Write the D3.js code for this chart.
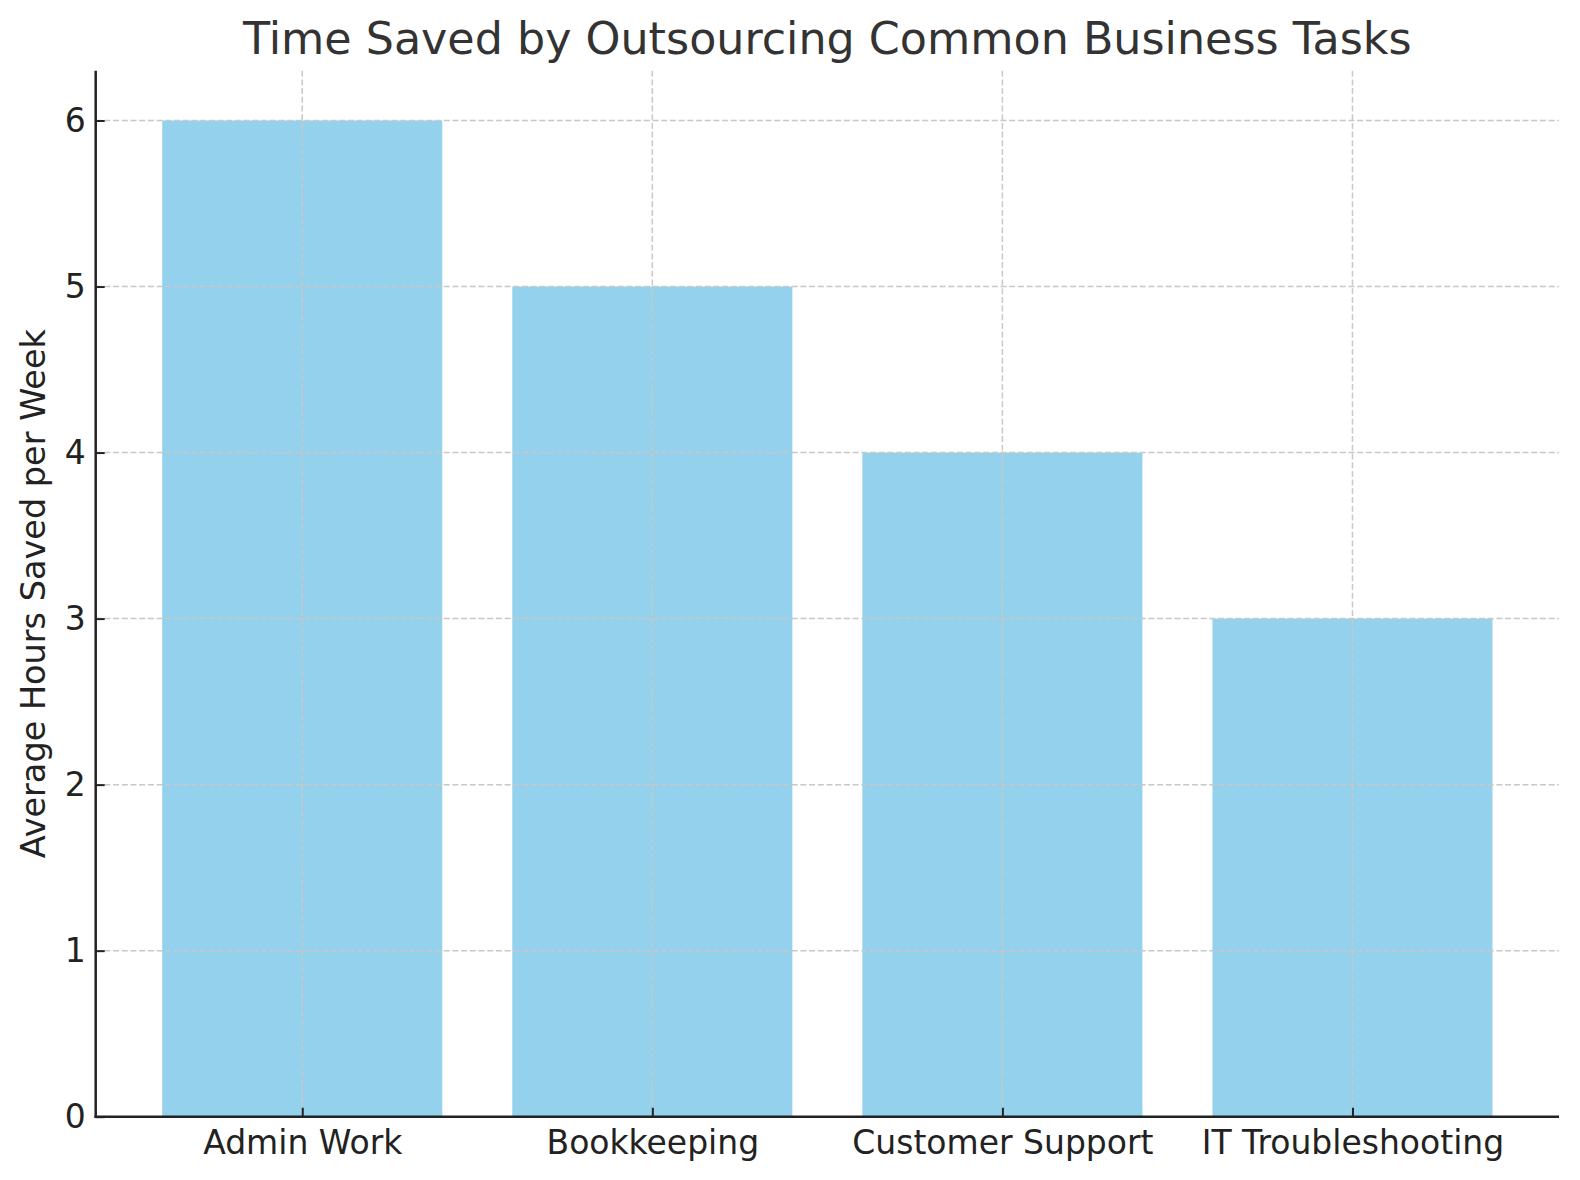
<!DOCTYPE html>
<html>
<head>
<meta charset="utf-8">
<script src="https://cdn.jsdelivr.net/npm/d3@7"></script>
<style>
  body { margin: 0; background: #fff; }
  svg text { font-family: "DejaVu Sans", sans-serif; }
</style>
</head>
<body>
<div id="chart"></div>
<script>
const categories = ["Admin Work", "Bookkeeping", "Customer Support", "IT Troubleshooting"];
const hoursSaved = [6, 5, 4, 3];
const yTicks = [0, 1, 2, 3, 4, 5, 6];

const width = 1580;
const height = 1180;
const margin = { top: 70.7, right: 21, bottom: 63.3, left: 95.7 };
const innerW = width - margin.left - margin.right;
const innerH = height - margin.top - margin.bottom;

const svg = d3.select("#chart")
  .append("svg")
  .attr("width", width)
  .attr("height", height);

const g = svg.append("g")
  .attr("transform", `translate(${margin.left},${margin.top})`);

// matplotlib-style categorical axis: centers at 0..n-1, padded 0.59 each side
const x = d3.scaleLinear()
  .domain([-0.59, categories.length - 1 + 0.59])
  .range([0, innerW]);
const barW = x(0.8) - x(0);

const y = d3.scaleLinear().domain([0, 6.3]).range([innerH, 0]);

// bars
g.selectAll("rect.bar")
  .data(hoursSaved)
  .enter()
  .append("rect")
  .attr("class", "bar")
  .attr("x", (d, i) => x(i) - barW / 2)
  .attr("y", (d) => y(d))
  .attr("width", barW)
  .attr("height", (d) => y(0) - y(d))
  .attr("fill", "#93d1ec");

// grid (drawn over the bars)
const grid = g.append("g").attr("class", "grid");
grid.selectAll("line.h")
  .data(yTicks)
  .enter()
  .append("line")
  .attr("x1", 0)
  .attr("x2", innerW)
  .attr("y1", (d) => y(d))
  .attr("y2", (d) => y(d));
grid.selectAll("line.v")
  .data(categories)
  .enter()
  .append("line")
  .attr("x1", (d, i) => x(i))
  .attr("x2", (d, i) => x(i))
  .attr("y1", 0)
  .attr("y2", innerH);
grid.selectAll("line")
  .attr("stroke", "#c8c8c8")
  .attr("stroke-width", 1.5)
  .attr("stroke-dasharray", "6,2.7");

// y axis
const yAxis = g.append("g")
  .call(d3.axisLeft(y).tickValues(yTicks).tickFormat(d3.format("d")).tickSizeInner(-9).tickSizeOuter(0).tickPadding(10));
yAxis.select(".domain").remove();
yAxis.selectAll(".tick line").attr("stroke", "#222").attr("stroke-width", 2);
yAxis.selectAll(".tick text")
  .attr("fill", "#222")
  .style("font-size", "33px");

// x axis
const xAxis = g.append("g")
  .attr("transform", `translate(0,${innerH})`)
  .call(d3.axisBottom(x).tickValues(d3.range(categories.length)).tickFormat((i) => categories[i]).tickSizeInner(-9).tickSizeOuter(0).tickPadding(14));
xAxis.select(".domain").remove();
xAxis.selectAll(".tick line").attr("stroke", "#222").attr("stroke-width", 2);
xAxis.selectAll(".tick text")
  .attr("fill", "#222")
  .style("font-size", "33px");

// spines (left and bottom only)
g.append("line")
  .attr("x1", 0).attr("x2", 0)
  .attr("y1", 0).attr("y2", innerH + 1.2)
  .attr("stroke", "#222").attr("stroke-width", 2.5);
g.append("line")
  .attr("x1", -1.2).attr("x2", innerW)
  .attr("y1", innerH).attr("y2", innerH)
  .attr("stroke", "#222").attr("stroke-width", 2.5);

// y label
svg.append("text")
  .attr("transform", `translate(45,${margin.top + innerH / 2}) rotate(-90)`)
  .attr("text-anchor", "middle")
  .attr("fill", "#222")
  .style("font-size", "33.5px")
  .text("Average Hours Saved per Week");

// title
svg.append("text")
  .attr("x", margin.left + innerW / 2)
  .attr("y", 54.3)
  .attr("text-anchor", "middle")
  .attr("fill", "#333")
  .style("font-size", "44.4px")
  .text("Time Saved by Outsourcing Common Business Tasks");
</script>
</body>
</html>
